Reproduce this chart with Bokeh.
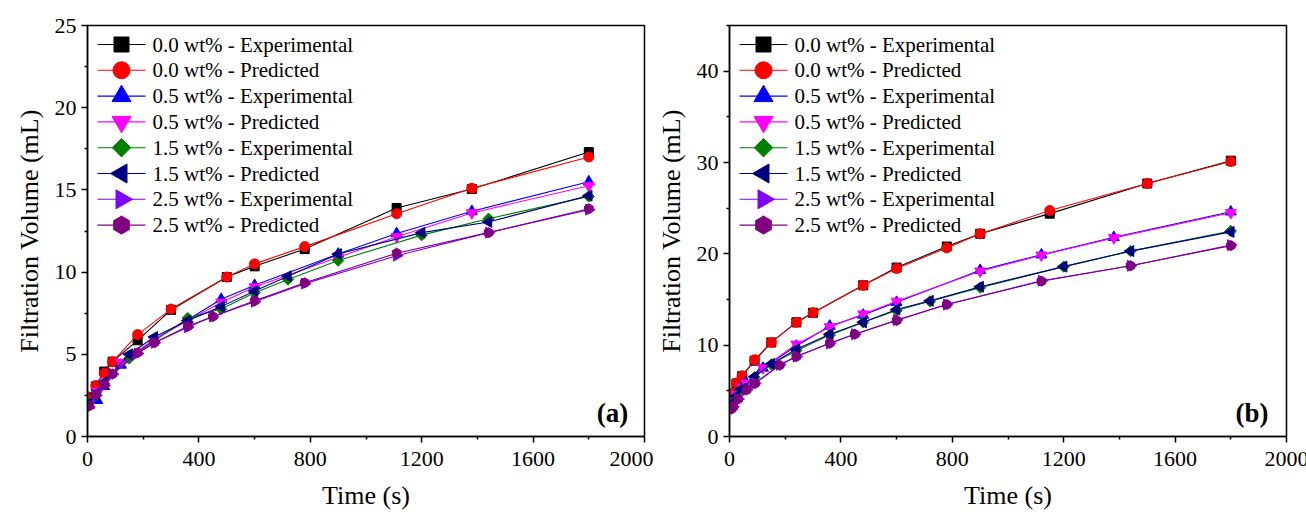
import math
from bokeh.plotting import figure
from bokeh.models import FixedTicker, Label, Range1d
from bokeh.core.properties import value
from bokeh.layouts import row
from bokeh.embed import file_html
from bokeh.resources import INLINE

# ---------------- data ----------------
series_labels = ["0.0 wt% - Experimental", "0.0 wt% - Predicted",
                 "0.5 wt% - Experimental", "0.5 wt% - Predicted",
                 "1.5 wt% - Experimental", "1.5 wt% - Predicted",
                 "2.5 wt% - Experimental", "2.5 wt% - Predicted"]

# Panel (a)
a_t00 = [5, 30, 60, 90, 180, 300, 500, 600, 780, 1110, 1380, 1800]
a_exp00 = [2.4, 3.05, 3.95, 4.55, 5.85, 7.7, 9.7, 10.35, 11.4, 13.9, 15.05, 17.3]
a_pred00 = [2.4, 3.1, 3.85, 4.55, 6.2, 7.75, 9.7, 10.5, 11.55, 13.55, 15.1, 17.0]

a_t05 = [5, 35, 60, 120, 240, 360, 480, 600, 900, 1110, 1380, 1800]
a_exp05 = [1.9, 2.2, 3.05, 4.35, 5.9, 7.1, 8.35, 9.2, 11.1, 12.35, 13.7, 15.5]
a_pred05 = [2.0, 2.75, 3.3, 4.5, 5.9, 7.05, 8.15, 9.1, 10.9, 12.15, 13.6, 15.25]

a_t15 = [5, 30, 60, 150, 240, 360, 480, 600, 720, 900, 1200, 1440, 1800]
a_exp15 = [2.0, 2.5, 3.2, 4.75, 5.8, 7.2, 7.75, 8.75, 9.55, 10.7, 12.25, 13.25, 14.6]
a_pred15 = [2.0, 2.6, 3.3, 5.0, 6.05, 7.05, 7.9, 8.85, 9.75, 11.1, 12.4, 13.05, 14.65]

a_t25 = [5, 30, 60, 90, 180, 240, 360, 450, 600, 780, 1110, 1440, 1800]
a_exp25 = [1.8, 2.5, 3.1, 3.8, 5.05, 5.7, 6.65, 7.3, 8.2, 9.3, 11.0, 12.4, 13.8]
a_pred25 = [1.85, 2.55, 3.15, 3.8, 5.1, 5.7, 6.7, 7.3, 8.25, 9.35, 11.15, 12.4, 13.85]

# Panel (b)
b_t00 = [7, 25, 45, 90, 150, 240, 300, 480, 600, 780, 900, 1150, 1500, 1800]
b_exp00 = [4.7, 5.8, 6.6, 8.3, 10.3, 12.5, 13.55, 16.55, 18.5, 20.8, 22.2, 24.4, 27.7, 30.2]
b_pred00 = [4.7, 5.85, 6.65, 8.4, 10.3, 12.5, 13.55, 16.55, 18.4, 20.65, 22.2, 24.75, 27.7, 30.1]

b_t05 = [7, 25, 45, 60, 120, 240, 360, 480, 600, 900, 1120, 1380, 1800]
b_exp05 = [3.9, 4.7, 5.5, 5.9, 7.5, 9.9, 12.1, 13.3, 14.7, 18.2, 19.9, 21.8, 24.6]
b_pred05 = [3.9, 4.6, 5.4, 5.8, 7.5, 10.1, 12.0, 13.4, 14.8, 18.1, 19.85, 21.75, 24.5]

b_t15 = [7, 25, 45, 90, 150, 240, 360, 480, 600, 720, 900, 1200, 1440, 1800]
b_exp15 = [3.6, 4.4, 5.2, 6.5, 7.9, 9.4, 11.1, 12.5, 13.8, 14.8, 16.3, 18.6, 20.3, 22.5]
b_pred15 = [3.6, 4.4, 5.2, 6.55, 7.95, 9.55, 11.2, 12.5, 13.9, 14.85, 16.4, 18.6, 20.3, 22.4]

b_t25 = [7, 13, 31, 61, 91, 180, 240, 360, 450, 600, 780, 1120, 1440, 1800]
b_exp25 = [3.0, 3.25, 4.1, 5.1, 5.8, 7.85, 8.75, 10.2, 11.2, 12.75, 14.45, 17.05, 18.7, 20.95]
b_pred25 = [3.0, 3.25, 4.1, 5.1, 5.8, 7.8, 8.75, 10.2, 11.2, 12.7, 14.45, 17.0, 18.7, 20.9]

x_major = [0, 400, 800, 1200, 1600, 2000]
x_minor = [200, 600, 1000, 1400, 1800]
a_y_major = [0, 5, 10, 15, 20, 25]
a_y_minor = [2.5, 7.5, 12.5, 17.5, 22.5]
b_y_major = [0, 10, 20, 30, 40]
b_y_minor = [5, 15, 25, 35, 45]

# ---------------- styles ----------------
FONT = "Liberation Serif"
FRAME_W, FRAME_H = 557, 411
colors = ["#000000", "#ff0000", "#0000ff", "#ff00ff",
          "#008000", "#000080", "#8000ff", "#800080"]
# (marker, angle, plot size, legend size)
markers = [("square", 0.0, 9, 15), ("circle", 0.0, 10, 17),
           ("triangle", 0.0, 11, 19), ("inverted_triangle", 0.0, 11, 19),
           ("square", math.pi / 4, 8, 13), ("triangle", math.pi / 2, 11, 19),
           ("triangle", -math.pi / 2, 11, 19), ("hex", math.pi / 6, 10, 18)]

# legend layout (pixels inside the frame)
LEG_LINE_X0, LEG_LINE_X1, LEG_MARK_X, LEG_TEXT_X = 10, 58, 34, 65
LEG_ROW0, LEG_ROW_STEP = 19, 25.8


def make_panel(data, y_end, y_major, y_minor, tag, border_left, border_right, tag_x):
    p = figure(output_backend="svg", toolbar_location=None,
               frame_width=FRAME_W, frame_height=FRAME_H,
               min_border_left=border_left, min_border_right=border_right,
               min_border_top=25, min_border_bottom=78,
               x_range=Range1d(0, 2000), y_range=Range1d(0, y_end))
    p.xgrid.visible = False
    p.ygrid.visible = False
    p.outline_line_color = "#000000"
    p.outline_line_width = 1.5
    p.background_fill_color = "white"
    p.border_fill_color = "white"

    for ax, maj, mnr in ((p.xaxis[0], x_major, x_minor), (p.yaxis[0], y_major, y_minor)):
        ax.ticker = FixedTicker(ticks=maj, minor_ticks=mnr)
        ax.axis_line_width = 1.5
        ax.axis_line_color = "#000000"
        ax.major_tick_line_width = 1.5
        ax.minor_tick_line_width = 1.5
        ax.major_tick_out = 6
        ax.major_tick_in = 0
        ax.minor_tick_out = 3
        ax.minor_tick_in = 0
        ax.major_label_text_font = FONT
        ax.major_label_text_font_size = "22px"
        ax.major_label_text_color = "#000000"
        ax.axis_label_text_font = FONT
        ax.axis_label_text_font_size = "26px"
        ax.axis_label_text_font_style = "normal"
        ax.axis_label_text_color = "#000000"
    p.xaxis.axis_label = "Time (s)"
    p.yaxis.axis_label = "Filtration Volume (mL)"
    p.xaxis.major_label_standoff = 9
    p.xaxis.axis_label_standoff = 12
    p.yaxis.major_label_standoff = 5
    p.yaxis.axis_label_standoff = 8

    for i, (t, v) in enumerate(data):
        c = colors[i]
        mk, ang, sz, _ = markers[i]
        p.line(t, v, line_color=c, line_width=1.1)
        p.scatter(t, v, marker=mk, angle=ang, size=sz, fill_color=c,
                  line_color=c, line_width=1)

    # legend drawn with glyphs so that rotated markers keep their orientation
    px_x = 2000 / FRAME_W
    px_y = y_end / FRAME_H
    for i in range(8):
        c = colors[i]
        mk, ang, _, lsz = markers[i]
        yv = y_end - (LEG_ROW0 + LEG_ROW_STEP * i) * px_y
        p.segment(x0=[LEG_LINE_X0 * px_x], y0=[yv], x1=[LEG_LINE_X1 * px_x], y1=[yv],
                  line_color=c, line_width=1.1)
        p.scatter([LEG_MARK_X * px_x], [yv], marker=mk, angle=ang, size=lsz,
                  fill_color=c, line_color=c)
        p.text(x=[LEG_TEXT_X * px_x], y=[yv], text=[series_labels[i]],
               text_font=value(FONT), text_font_size=value("21px"),
               text_baseline="middle", text_align="left", text_color="#000000")

    p.add_layout(Label(x=tag_x, y=y_end * 0.058, text=tag,
                       text_align="right", text_baseline="middle",
                       text_font=FONT, text_font_style="bold",
                       text_font_size="27px", text_color="#000000"))
    return p


pa = make_panel([(a_t00, a_exp00), (a_t00, a_pred00), (a_t05, a_exp05), (a_t05, a_pred05),
                 (a_t15, a_exp15), (a_t15, a_pred15), (a_t25, a_exp25), (a_t25, a_pred25)],
                25, a_y_major, a_y_minor, "(a)", 87, 9, 1942)
pb = make_panel([(b_t00, b_exp00), (b_t00, b_pred00), (b_t05, b_exp05), (b_t05, b_pred05),
                 (b_t15, b_exp15), (b_t15, b_pred15), (b_t25, b_exp25), (b_t25, b_pred25)],
                45, b_y_major, b_y_minor, "(b)", 70, 26, 1935)

layout = row(pa, pb, spacing=0)
open("out.html", "w").write(file_html(layout, INLINE))
